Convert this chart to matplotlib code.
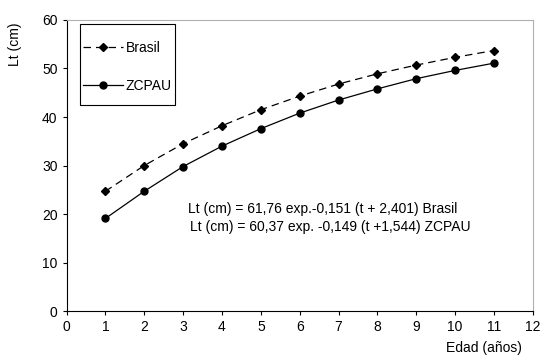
import matplotlib
matplotlib.use('Agg')
from matplotlib import pyplot as plt
from matplotlib.patches import Rectangle

plt.rcParams['font.family'] = ['Liberation Sans', 'DejaVu Sans']

# age in years
edad = [1, 2, 3, 4, 5, 6, 7, 8, 9, 10, 11]

# total length (cm)
brasil = [24.7, 30.0, 34.5, 38.2, 41.5, 44.3, 46.8, 48.9, 50.7, 52.3, 53.7]
zcpau = [19.1, 24.7, 29.8, 34.0, 37.6, 40.8, 43.5, 45.8, 47.9, 49.6, 51.1]

eq_brasil = 'Lt (cm) = 61,76 exp.-0,151 (t + 2,401) Brasil'
eq_zcpau = 'Lt (cm) = 60,37 exp. -0,149 (t +1,544) ZCPAU'

fig = plt.figure(figsize=(5.41, 3.56), dpi=100)
ax = fig.add_axes([0.123, 0.126, 0.862, 0.818])

ax.plot(edad, brasil, color='black', linestyle=(0, (6, 4)), linewidth=0.9,
        marker='D', markersize=4, label='Brasil')
ax.plot(edad, zcpau, color='black', linestyle='-', linewidth=0.9,
        marker='o', markersize=5, label='ZCPAU')

ax.set_xlim(0, 12)
ax.set_ylim(0, 60)
ax.set_xticks(range(0, 13))
ax.set_yticks(range(0, 61, 10))
ax.tick_params(direction='out', length=3, width=0.8, labelsize=10, colors='black')

for s in ['top', 'right']:
    ax.spines[s].set_color('#b0b0b0')
for s in ['left', 'bottom']:
    ax.spines[s].set_color('black')

# legend without its own frame, box drawn by hand
leg = ax.legend(loc='upper left', bbox_to_anchor=(0.0, 0.985), fontsize=10,
                frameon=False, handlelength=2.9, labelspacing=1.75,
                borderpad=0.9, handletextpad=0.15, borderaxespad=0.3)
ax.add_patch(Rectangle((0.0285, 0.708), 0.2035, 0.278, transform=ax.transAxes,
                       fill=False, edgecolor='black', linewidth=0.8, zorder=5))

ax.text(3.12, 21.0, eq_brasil, ha='left', va='center', fontsize=10)
ax.text(3.17, 17.3, eq_zcpau, ha='left', va='center', fontsize=10)

fig.text(0.028, 0.875, 'Lt (cm)', rotation=90, ha='center', va='center', fontsize=10)
fig.text(0.895, 0.022, 'Edad (años)', ha='center', va='center', fontsize=10)

plt.savefig('out.png', dpi=100)
